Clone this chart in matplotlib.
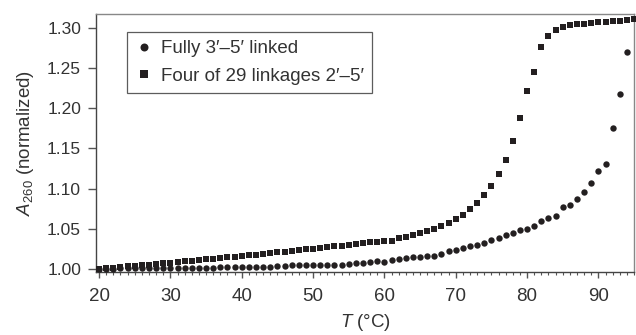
import matplotlib
matplotlib.use("Agg")
import matplotlib.pyplot as plt
from matplotlib.ticker import MultipleLocator, FormatStrFormatter

plt.rcParams['font.family'] = ['Liberation Sans', 'DejaVu Sans']
plt.rcParams['mathtext.fontset'] = 'custom'
plt.rcParams['mathtext.rm'] = 'Liberation Sans'
plt.rcParams['mathtext.it'] = 'Liberation Sans:italic'

# Temperatures (°C)
temp_full = list(range(20, 95))   # 20..94
temp_four = list(range(20, 96))   # 20..95

# Fully 3'-5' linked (circles)
a260_full = [
    1.0000, 1.0003, 1.0005, 1.0007, 1.0008, 1.0010, 1.0011, 1.0012, 1.0013, 1.0014,
    1.0015, 1.0016, 1.0017, 1.0017, 1.0018, 1.0019, 1.0019, 1.0020, 1.0020, 1.0021,
    1.0021, 1.0022, 1.0023, 1.0024, 1.0028, 1.0034, 1.0040, 1.0046, 1.0049, 1.0050,
    1.0048, 1.0050, 1.0047, 1.0052, 1.0056, 1.0062, 1.0069, 1.0077, 1.0085, 1.0098,
    1.0093, 1.0110, 1.0127, 1.0139, 1.0148, 1.0152, 1.0160, 1.0168, 1.0191, 1.0220,
    1.0241, 1.0262, 1.0283, 1.0300, 1.0325, 1.0366, 1.0383, 1.0425, 1.0454, 1.0491,
    1.0504, 1.0533, 1.0600, 1.0635, 1.0665, 1.0770, 1.0795, 1.0870, 1.0955, 1.1065,
    1.1215, 1.1307, 1.1748, 1.2181, 1.2695,
]

# Four of 29 linkages 2'-5' (squares)
a260_four = [
    1.0000, 1.0008, 1.0016, 1.0024, 1.0032, 1.0040, 1.0048, 1.0055, 1.0063, 1.0072,
    1.0080, 1.0088, 1.0096, 1.0104, 1.0112, 1.0120, 1.0128, 1.0136, 1.0145, 1.0153,
    1.0162, 1.0170, 1.0180, 1.0190, 1.0198, 1.0206, 1.0215, 1.0225, 1.0235, 1.0245,
    1.0254, 1.0262, 1.0275, 1.0283, 1.0291, 1.0304, 1.0312, 1.0325, 1.0333, 1.0341,
    1.0350, 1.0354, 1.0383, 1.0400, 1.0425, 1.0445, 1.0470, 1.0503, 1.0537, 1.0578,
    1.0628, 1.0670, 1.0745, 1.0820, 1.0920, 1.1036, 1.1182, 1.1360, 1.1594, 1.1880,
    1.2214, 1.2450, 1.2763, 1.2900, 1.2970, 1.3013, 1.3030, 1.3042, 1.3050, 1.3059,
    1.3067, 1.3071, 1.3084, 1.3088, 1.3096, 1.3110,
]

series_labels = ["Fully 3\u2032\u20135\u2032 linked", "Four of 29 linkages 2\u2032\u20135\u2032"]
y_ticks = [1.00, 1.05, 1.10, 1.15, 1.20, 1.25, 1.30]
x_ticks = [20, 30, 40, 50, 60, 70, 80, 90]

text_color = '#333333'
mark_color = '#231f20'

fig = plt.figure(figsize=(6.36, 3.35), dpi=100)
ax = fig.add_axes([0.151, 0.188, 0.846, 0.770])

ax.plot(temp_full, a260_full, linestyle='none', marker='o', markersize=4.6,
        color=mark_color, markeredgewidth=0, label=series_labels[0], clip_on=False, zorder=3)
ax.plot(temp_four, a260_four, linestyle='none', marker='s', markersize=4.6,
        color=mark_color, markeredgewidth=0, label=series_labels[1], clip_on=False, zorder=3)

ax.set_xlim(19.58, 95.0)
ax.set_ylim(0.9963, 1.3171)
ax.set_xticks(x_ticks)
ax.set_yticks(y_ticks)
ax.xaxis.set_minor_locator(MultipleLocator(1))
ax.yaxis.set_major_formatter(FormatStrFormatter('%.2f'))

ax.tick_params(axis='y', which='major', direction='out', length=5.8, width=1,
               color='#555555', labelsize=12.5, labelcolor=text_color, pad=5)
ax.tick_params(axis='x', which='major', direction='out', length=4.5, width=1,
               color='#555555', labelsize=13.5, labelcolor=text_color, pad=7)
ax.tick_params(axis='x', which='minor', direction='out', length=2.3, width=0.8, color='#555555')

for side in ['left', 'bottom']:
    ax.spines[side].set_color('#444444')
    ax.spines[side].set_linewidth(1.0)
for side in ['top', 'right']:
    ax.spines[side].set_color('#888888')
    ax.spines[side].set_linewidth(1.0)

ax.set_xlabel(r'$T$ (°C)', fontsize=13.5, color=text_color, labelpad=5)
ax.set_ylabel(r'$A_{260}$ (normalized)', fontsize=13.5, color=text_color, labelpad=8)

leg = ax.legend(loc='upper left', bbox_to_anchor=(0.058, 0.931), fontsize=13.5,
                frameon=True, fancybox=False, borderpad=0.45, handletextpad=0.45,
                handlelength=0.9, labelspacing=0.55, borderaxespad=0, markerscale=1.25)
leg.get_frame().set_edgecolor('#333333')
leg.get_frame().set_linewidth(0.9)
for t in leg.get_texts():
    t.set_color(text_color)

fig.savefig('out.png', dpi=100)
